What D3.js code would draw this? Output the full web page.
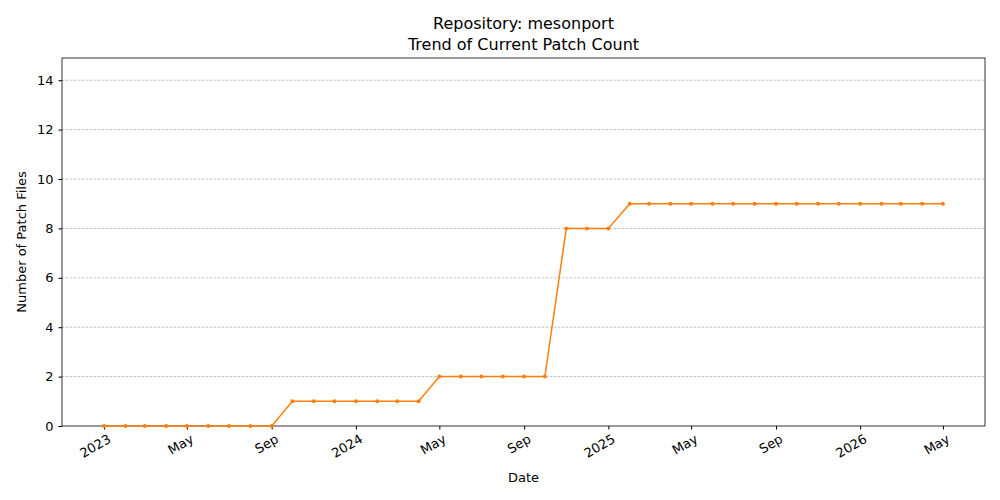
<!DOCTYPE html>
<html><head><meta charset="utf-8">
<script src="https://cdn.jsdelivr.net/npm/d3@7"></script>
<style>body{margin:0;background:#fff}text{font-family:"DejaVu Sans",sans-serif}</style>
</head><body><svg id="c" width="1000" height="500"></svg>
<script>
const startMonth = "2023-01";
const values = [0,0,0,0,0,0,0,0,0, 1,1,1,1,1,1,1, 2,2,2,2,2,2, 8,8,8, 9,9,9,9,9,9,9,9,9,9,9,9,9,9,9,9];
const yTicks = [0,2,4,6,8,10,12,14];
const xTickDates = ["2023-01","2023-05","2023-09","2024-01","2024-05","2024-09","2025-01","2025-05","2025-09","2026-01","2026-05"];
const xTickLabels = ["2023","May","Sep","2024","May","Sep","2025","May","Sep","2026","May"];

const parse = d3.timeParse("%Y-%m");
const t0 = parse(startMonth);
const data = values.map((v,i)=>({d:d3.timeMonth.offset(t0,i), v}));
const L=62,R=985,T=58,B=426;
const x = d3.scaleTime().domain([parse("2022-11"), parse("2026-07")]).range([L,R]);
const y = d3.scaleLinear().domain([0,14.9]).range([B,T]);
const svg = d3.select("#c");

svg.append("g").selectAll("line").data(yTicks.filter(t=>t>0)).join("line")
  .attr("x1",L).attr("x2",R).attr("y1",d=>y(d)).attr("y2",d=>y(d))
  .attr("stroke","#b0b0b0").attr("stroke-width",0.8).attr("stroke-dasharray","2.5,1.5");

const ya = svg.append("g").attr("transform",`translate(${L},0)`)
  .call(d3.axisLeft(y).tickValues(yTicks).tickSize(3.5).tickPadding(5));
const xa = svg.append("g").attr("transform",`translate(0,${B})`)
  .call(d3.axisBottom(x).tickValues(xTickDates.map(parse)).tickFormat((d,i)=>xTickLabels[i]).tickSize(3.5));
[ya,xa].forEach(a=>{a.select(".domain").remove();a.selectAll("text").attr("font-size",13).attr("fill","#000");a.selectAll("line").attr("stroke","#000");});
xa.selectAll("text").attr("text-anchor","end").attr("dy",0).attr("dx",0)
  .attr("transform","translate(4,10) rotate(-30)");

svg.append("rect").attr("x",L).attr("y",T).attr("width",R-L).attr("height",B-T)
  .attr("fill","none").attr("stroke","#000").attr("stroke-width",0.8);

svg.append("path").datum(data).attr("fill","none").attr("stroke","#ff7f0e").attr("stroke-width",1.5)
  .attr("d",d3.line().x(d=>x(d.d)).y(d=>y(d.v)));
svg.append("g").selectAll("circle").data(data).join("circle")
  .attr("cx",d=>x(d.d)).attr("cy",d=>y(d.v)).attr("r",2).attr("fill","#ff7f0e");

svg.append("text").attr("x",(L+R)/2).attr("y",29).attr("text-anchor","middle").attr("font-size",16).text("Repository: mesonport");
svg.append("text").attr("x",(L+R)/2).attr("y",50).attr("text-anchor","middle").attr("font-size",16).text("Trend of Current Patch Count");
svg.append("text").attr("x",(L+R)/2).attr("y",482).attr("text-anchor","middle").attr("font-size",13).text("Date");
svg.append("text").attr("transform",`translate(26,${(T+B)/2}) rotate(-90)`).attr("text-anchor","middle").attr("font-size",13).text("Number of Patch Files");
</script></body></html>
